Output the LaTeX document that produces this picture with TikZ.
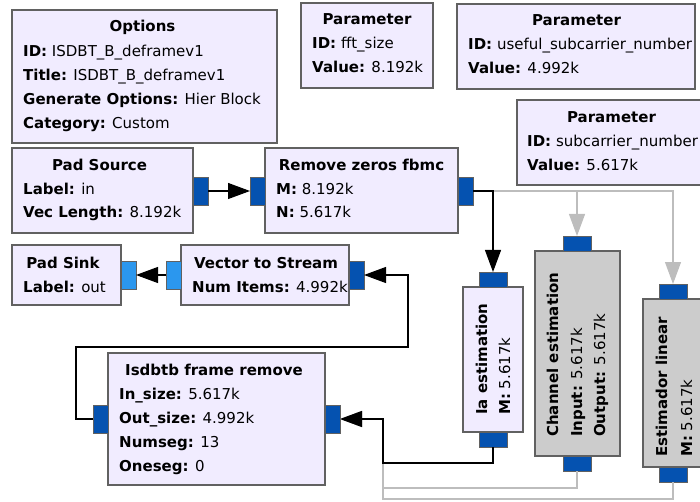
\documentclass[tikz,border=0pt]{standalone}
\usepackage{fontspec}
\setmainfont{DejaVu Sans}
\usetikzlibrary{arrows.meta}
\definecolor{blkfill}{HTML}{F1ECFF}
\definecolor{dis}{HTML}{CCCCCC}
\definecolor{bord}{HTML}{616161}
\definecolor{pdark}{HTML}{0552B0}
\definecolor{plight}{HTML}{2B97EE}
\definecolor{gline}{HTML}{BDBDBD}
\newcommand{\kv}[2]{\textbf{#1:} #2}
\begin{document}
\begin{tikzpicture}[x=1pt,y=-1pt, font=\fontsize{15}{18}\selectfont,
 blk/.style={draw=bord, line width=1.1pt, fill=blkfill, inner sep=0, outer sep=0, anchor=north west},
 dblk/.style={blk, fill=dis},
 port/.style={draw=bord, line width=0.8pt, fill=pdark, inner sep=0, outer sep=0},
 hport/.style={port, minimum width=15pt, minimum height=28pt},
 vport/.style={port, minimum width=28pt, minimum height=15pt},
 lport/.style={hport, fill=plight},
 ttl/.style={inner sep=0, anchor=base, font=\fontsize{15}{18}\selectfont\bfseries},
 prm/.style={inner sep=0, anchor=base west},
 vttl/.style={ttl, anchor=base west, rotate=90},
 vprm/.style={prm, rotate=90},
 conn/.style={draw=black, line width=1.1pt, -{Triangle[length=22pt,width=16pt]}},
 gconn/.style={draw=gline, line width=1.1pt, -{Triangle[length=22pt,width=16pt]}}
]
\useasboundingbox (0,0) rectangle (700,502);
\clip (0,0) rectangle (700,502);

% blocks
\node[blk, minimum width=265pt, minimum height=133pt] (opt) at (12,10) {};
\node[blk, minimum width=132pt, minimum height=85pt] (fft) at (301,3) {};
\node[blk, minimum width=238pt, minimum height=85pt] (usc) at (457,4) {};
\node[blk, minimum width=190pt, minimum height=85pt] (sc) at (517,100) {};
\node[blk, minimum width=181pt, minimum height=85pt] (psrc) at (12,148) {};
\node[blk, minimum width=193pt, minimum height=85pt] (rz) at (265,148) {};
\node[blk, minimum width=109pt, minimum height=60pt] (psink) at (12,245) {};
\node[blk, minimum width=168pt, minimum height=60pt] (v2s) at (181,245) {};
\node[blk, minimum width=217pt, minimum height=132pt] (ifr) at (108,353) {};
\node[blk, minimum width=60pt, minimum height=145pt] (ia) at (463,287) {};
\node[dblk, minimum width=85pt, minimum height=205pt] (ce) at (535,251) {};
\node[dblk, minimum width=60pt, minimum height=168pt] (el) at (643,299) {};

% ports
\node[hport] (psrc-out) at (200.5,191) {};
\node[hport] (rz-in) at (257.5,191) {};
\node[hport] (rz-out) at (465.5,191) {};
\node[lport] (psink-in) at (128.5,275) {};
\node[lport] (v2s-l) at (173.5,275) {};
\node[hport] (v2s-r) at (356.5,275) {};
\node[hport] (ifr-l) at (100.5,419) {};
\node[hport] (ifr-r) at (332.5,419) {};
\node[vport] (ia-in) at (493,279.5) {};
\node[vport] (ia-out) at (493,439.5) {};
\node[vport] (ce-in) at (577,243.5) {};
\node[vport] (ce-out) at (577,463.5) {};
\node[vport] (el-in) at (673,291.5) {};
\node[vport] (el-out) at (673,474.5) {};

% texts
\node[ttl] (opt-t) at (142.5,32) {Options};
\node[prm] (opt-1) at (23,57) {\kv{ID}{ISDBT\_B\_deframev1}};
\node[prm] (opt-2) at (23,81) {\kv{Title}{ISDBT\_B\_deframev1}};
\node[prm] (opt-3) at (23,105) {\kv{Generate Options}{Hier Block}};
\node[prm] (opt-4) at (23,129) {\kv{Category}{Custom}};

\node[ttl] (fft-t) at (367,25) {Parameter};
\node[prm] (fft-1) at (312,49) {\kv{ID}{fft\_size}};
\node[prm] (fft-2) at (312,73) {\kv{Value}{8.192k}};

\node[ttl] (usc-t) at (576.5,26) {Parameter};
\node[prm] (usc-1) at (468,50) {\kv{ID}{useful\_subcarrier\_number}};
\node[prm] (usc-2) at (468,74) {\kv{Value}{4.992k}};

\node[ttl] (sc-t) at (611.5,123) {Parameter};
\node[prm] (sc-1) at (527,147) {\kv{ID}{subcarrier\_number}};
\node[prm] (sc-2) at (527,171) {\kv{Value}{5.617k}};

\node[ttl] (psrc-t) at (99.5,171) {Pad Source};
\node[prm] (psrc-1) at (23,195) {\kv{Label}{in}};
\node[prm] (psrc-2) at (23,218) {\kv{Vec Length}{8.192k}};

\node[ttl] (rz-t) at (361.5,171) {Remove zeros fbmc};
\node[prm] (rz-1) at (276,195) {\kv{M}{8.192k}};
\node[prm] (rz-2) at (276,218) {\kv{N}{5.617k}};

\node[ttl] (psink-t) at (63,268) {Pad Sink};
\node[prm] (psink-1) at (23,292) {\kv{Label}{out}};

\node[ttl] (v2s-t) at (266,268) {Vector to Stream};
\node[prm] (v2s-1) at (192,292) {\kv{Num Items}{4.992k}};

\node[ttl] (ifr-t) at (214,375) {Isdbtb frame remove};
\node[prm] (ifr-1) at (119,399) {\kv{In\_size}{5.617k}};
\node[prm] (ifr-2) at (119,423) {\kv{Out\_size}{4.992k}};
\node[prm] (ifr-3) at (119,447) {\kv{Numseg}{13}};
\node[prm] (ifr-4) at (119,471) {\kv{Oneseg}{0}};

\node[vttl] (ia-t) at (487,415) {Ia estimation};
\node[vprm] (ia-1) at (510,415) {\kv{M}{5.617k}};

\node[vttl] (ce-t) at (558,437) {Channel estimation};
\node[vprm] (ce-1) at (582,437) {\kv{Input}{5.617k}};
\node[vprm] (ce-2) at (605,437) {\kv{Output}{5.617k}};

\node[vttl] (el-t) at (667,457) {Estimador linear};
\node[vprm] (el-1) at (692,457) {\kv{M}{5.617k}};

% junctions
\coordinate (j1) at (383,463);
\coordinate (j2) at (383,488);
\coordinate (j3) at (383,499);
\coordinate (k1) at (76,347);
\coordinate (k2) at (408,347);

% gray (disabled) connections
\draw[gconn] (rz-out.east) -| (el-in.north);
\draw[gconn] (rz-out.east) -| (ce-in.north);
\draw[gconn] (el-out.south) |- (j3) |- (ifr-r.east);
\draw[gconn] (ce-out.south) |- (j2) |- (ifr-r.east);

% black connections
\draw[conn] (psrc-out.east) -- (rz-in.west);
\draw[conn] (rz-out.east) -| (ia-in.north);
\draw[conn] (ia-out.south) |- (j1) |- (ifr-r.east);
\draw[conn] (ifr-l.west) -| (k1) -- (k2) |- (v2s-r.east);
\draw[conn] (v2s-l.west) -- (psink-in.east);
\end{tikzpicture}
\end{document}
